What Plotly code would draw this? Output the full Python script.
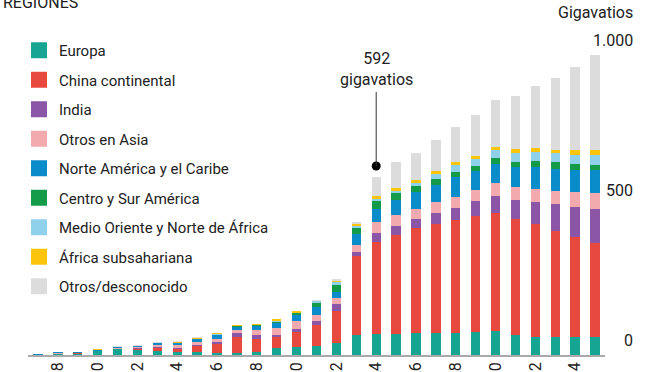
import plotly.graph_objects as go

years = list(range(2007, 2036))

regions = ["Europa", "China continental", "India", "Otros en Asia",
           "Norte América y el Caribe", "Centro y Sur América",
           "Medio Oriente y Norte de África", "África subsahariana",
           "Otros/desconocido"]

colors = ["#16a592", "#e8493e", "#8a56a5", "#f3aaae", "#0a8bca",
          "#139b4a", "#8fd1ea", "#fcc40a", "#dcdcdc"]

europa =   [2, 6.5, 6.5, 14, 20, 19, 12, 9, 11, 6, 8, 11, 24, 26, 31, 41, 67, 69, 70, 74, 74, 74, 78, 81, 67, 61, 61, 61, 61]
china =    [0, 0.1, 0.2, 0.5, 2.5, 3.5, 13, 13.5, 20, 33, 53, 44, 37, 52, 69, 107, 263, 307, 330, 348, 362, 376, 386, 393, 386, 376, 353, 333, 314]
india =    [0, 0, 0, 0, 0.3, 1, 1.2, 1, 2, 6, 11, 11, 6, 8, 14, 22, 14, 30, 30, 33, 36, 39, 48, 57, 64, 74, 88, 100, 113]
asia =     [0.3, 0.5, 1, 1.5, 2.5, 3.5, 7.5, 10, 11, 10, 11, 17, 22, 27, 19, 19, 22, 36, 37, 33, 39, 39, 39, 41, 44, 44, 46, 50, 52]
namerica = [0.2, 0.4, 0.8, 1.2, 2.2, 4, 7, 8, 9.5, 12.5, 13, 15, 19, 22, 28, 22, 39, 44, 50, 56, 56, 64, 61, 64, 67, 72, 72, 72, 76]
csamerica = [0, 0, 0, 0.1, 0.2, 0.3, 0.5, 0.8, 1.5, 1.5, 1.5, 2.5, 5, 5, 13, 22, 20, 26, 22, 19, 19, 19, 19, 21, 17, 20, 22, 20, 19]
mena =     [0, 0, 0, 0.1, 0.2, 0.3, 0.5, 0.7, 1, 1, 1, 2, 3, 3, 7, 11, 8, 8, 9, 12, 18, 22, 22, 26, 30, 30, 30, 30, 31]
africa =   [0, 0, 0, 0.1, 0.1, 0.3, 0.5, 0.5, 1, 0.5, 0.5, 0.5, 1, 1, 1.5, 5, 6, 9, 10, 10, 11, 11, 11, 11, 11, 13, 13, 17, 19]
otros =    [0, 0, 0, 0, 1, 1, 1, 1, 1, 0, 0, 0, 0, 0, 0.5, 3, 6, 63, 84, 89, 102, 117, 137, 156, 178, 206, 237, 276, 314]

series = [europa, china, india, asia, namerica, csamerica, mena, africa, otros]

tick_years = list(range(2008, 2036, 2))
ytick_vals = [0, 500, 1000]
ytick_text = ["0", "500", "1.000"]

highlight_year = 2024
highlight_total = 592

FONT = "Roboto, Liberation Sans Narrow, sans-serif"
TXT = "#222"

fig = go.Figure()
for name, vals, col in zip(regions, series, colors):
    fig.add_trace(go.Bar(x=years, y=vals, name=name, marker_color=col,
                         marker_line_width=0, showlegend=False))

for i, (name, col) in enumerate(zip(regions, colors)):
    fig.add_trace(go.Scatter(x=[None], y=[None], mode="markers", name=name,
                             marker=dict(symbol="square", size=16, color=col),
                             legendgroup=f"g{i}", showlegend=True))

# highlight marker
fig.add_trace(go.Scatter(x=[highlight_year], y=[630], mode="markers",
                         marker=dict(color="black", size=9), showlegend=False,
                         hoverinfo="skip"))
fig.add_shape(type="line", xref="x", yref="y", x0=highlight_year, x1=highlight_year,
              y0=630, y1=877, line=dict(color="#333", width=1))
fig.add_annotation(x=highlight_year, y=880, xref="x", yref="y", yanchor="bottom",
                   text=f"{highlight_total}<br>gigavatios", showarrow=False,
                   font=dict(size=16, color=TXT, family=FONT))

RX = 1.0468 + 3 / 577
for v, t in zip(ytick_vals, ytick_text):
    fig.add_annotation(x=RX, y=v, xref="paper", yref="y", xanchor="right",
                       yanchor="bottom", yshift=3, text=t, showarrow=False,
                       font=dict(size=16, color=TXT, family=FONT))
fig.add_annotation(x=RX, y=1000, xref="paper", yref="y", xanchor="right",
                   yanchor="bottom", yshift=31, text="Gigavatios", showarrow=False,
                   font=dict(size=16, color=TXT, family=FONT))
fig.add_annotation(x=(1 - 28) / 577, y=(355 - 14) / 315, xref="paper", yref="paper",
                   xanchor="left", yanchor="bottom", text="REGIONES", showarrow=False,
                   font=dict(size=16, color=TXT, family=FONT))

fig.update_layout(
    width=672, height=372,
    margin=dict(l=28, r=67, t=40, b=17, autoexpand=False),
    barmode="stack", bargap=0.53,
    plot_bgcolor="white", paper_bgcolor="white",
    font=dict(family=FONT, size=16, color=TXT),
    legend=dict(xref="container", yref="container", x=19 / 672, y=1 - 34 / 372,
                xanchor="left", yanchor="top", traceorder="grouped",
                tracegroupgap=7, itemsizing="trace", bgcolor="rgba(0,0,0,0)",
                maxheight=340,
                font=dict(size=15, color=TXT, family=FONT)),
    xaxis=dict(range=[2006.5, 2035.5], tickvals=tick_years,
               ticktext=[str(y) for y in tick_years], tickangle=-90,
               showgrid=False, zeroline=False, showline=True,
               linecolor="#aaaaaa", linewidth=1.5, ticks="", automargin=False,
               ticklabelstandoff=-1,
               tickfont=dict(size=16, color=TXT, family=FONT)),
    yaxis=dict(range=[0, 1050], visible=False),
    showlegend=True,
)

fig.write_html("out.html", config={"displayModeBar": False},
               post_script="document.body.style.margin='0';document.body.style.padding='0';")
